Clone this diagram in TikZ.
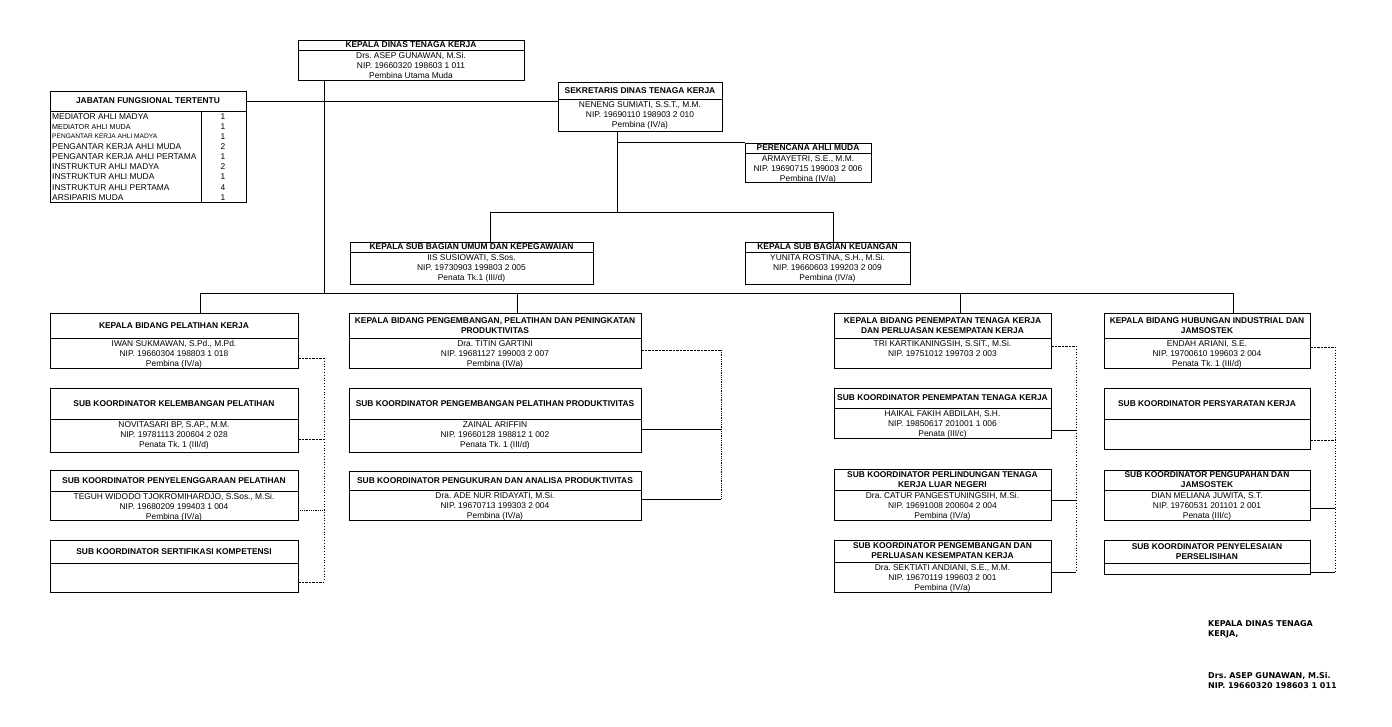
\documentclass[tikz,border=0pt]{standalone}
\usepackage{fontspec}
\setmainfont{Liberation Sans}
\newfontfamily\signfont{DejaVu Sans}
\usetikzlibrary{fit}

\tikzset{
  unitframe/.style={draw, line width=0.8pt, inner sep=0pt},
  unitline/.style={line width=0.8pt},
  unithead/.style={font=\bfseries\fontsize{8.4}{10}\selectfont, align=center, inner sep=0pt},
  unitbody/.style={font=\fontsize{8.4}{9.8}\selectfont, align=center, inner sep=0pt, anchor=north},
  link/.style={line width=0.8pt},
  feed/.style={line width=0.8pt, dash pattern=on 2.5pt off 1pt},
  spine/.style={line width=0.8pt, dotted},
  sign/.style={font=\signfont\bfseries\fontsize{8}{10.5}\selectfont, align=left, inner sep=0pt},
}

% name, left, top, right, separator, bottom, title, body
\newcommand\unitbox[8]{%
  \node[unitframe, fit={(#2,#3) (#4,#6)}] (#1) {};
  \draw[unitline] (#2,#5) -- (#4,#5);
  \node[unithead] (#1-head) at ({(#2+#4)/2},{(#3+#5)/2}) {#7};
  \node[unitbody] (#1-body) at ({(#2+#4)/2},#5+2.5) {#8};
}

\begin{document}
\frenchspacing
\begin{tikzpicture}[x=1pt,y=-1pt]
\useasboundingbox (0,0) rectangle (1392,727);

% pimpinan dan staf
\unitbox{kadis}{298}{40}{524}{50}{80}{KEPALA DINAS TENAGA KERJA}{Drs. ASEP GUNAWAN, M.Si.\\NIP. 19660320 198603 1 011\\Pembina Utama Muda}
\unitbox{sekre}{558}{82}{722}{99}{131}{SEKRETARIS DINAS TENAGA KERJA}{NENENG SUMIATI, S.S.T., M.M.\\NIP. 19690110 198903 2 010\\Pembina (IV/a)}
\unitbox{renc}{745}{143}{871}{153}{182}{PERENCANA AHLI MUDA}{ARMAYETRI, S.E., M.M.\\NIP. 19690715 199003 2 006\\Pembina (IV/a)}
\unitbox{umum}{350}{242}{593}{252}{284}{KEPALA SUB BAGIAN UMUM DAN KEPEGAWAIAN}{IIS SUSIOWATI, S.Sos.\\NIP. 19730903 199803 2 005\\Penata Tk.1 (III/d)}
\unitbox{keu}{745}{242}{910}{252}{284}{KEPALA SUB BAGIAN KEUANGAN}{YUNITA ROSTINA, S.H., M.Si.\\NIP. 19660603 199203 2 009\\Pembina (IV/a)}

% jabatan fungsional
\node[unitframe, fit={(50,91) (246,202)}] (jft) {};
\node[unithead] (jft-head) at (148,101) {JABATAN FUNGSIONAL TERTENTU};
\draw[unitline] (jft.west |- 0,111) -- (jft.east |- 0,111);
\draw[unitline] (201,111) -- (jft.south -| 201,0);
\foreach \name/\num/\fs [count=\i] in {MEDIATOR AHLI MADYA/1/8.4, MEDIATOR AHLI MUDA/1/7.2,
    PENGANTAR KERJA AHLI MADYA/1/6.6, PENGANTAR KERJA AHLI MUDA/2/8.4,
    PENGANTAR KERJA AHLI PERTAMA/1/8.4, INSTRUKTUR AHLI MADYA/2/8.4,
    INSTRUKTUR AHLI MUDA/1/8.4, INSTRUKTUR AHLI PERTAMA/4/8.4, ARSIPARIS MUDA/1/8.4} {
  \node[anchor=west, inner sep=0pt, font=\fontsize{\fs}{9}\selectfont] (jft-row\i) at (52,{106.4+10.1*\i}) {\name};
  \node[inner sep=0pt, font=\fontsize{8.4}{9}\selectfont] (jft-num\i) at (223,{106.4+10.1*\i}) {\num};
}

% bidang pelatihan kerja
\unitbox{pel}{50}{313}{298}{338}{368}{KEPALA BIDANG PELATIHAN KERJA}{IWAN SUKMAWAN, S.Pd., M.Pd.\\NIP. 19660304 198803 1 018\\Pembina (IV/a)}
\unitbox{pel1}{50}{388}{298}{419}{452}{SUB KOORDINATOR KELEMBANGAN PELATIHAN}{NOVITASARI BP, S.AP., M.M.\\NIP. 19781113 200604 2 028\\Penata Tk. 1 (III/d)}
\unitbox{pel2}{50}{470}{298}{491}{520}{SUB KOORDINATOR PENYELENGGARAAN PELATIHAN}{TEGUH WIDODO TJOKROMIHARDJO, S.Sos., M.Si.\\NIP. 19680209 199403 1 004\\Pembina (IV/a)}
\unitbox{pel3}{50}{540}{298}{563}{592}{SUB KOORDINATOR SERTIFIKASI KOMPETENSI}{}

% bidang produktivitas
\unitbox{prod}{349}{313}{641}{338}{368}{KEPALA BIDANG PENGEMBANGAN, PELATIHAN DAN PENINGKATAN\\PRODUKTIVITAS}{Dra. TITIN GARTINI\\NIP. 19681127 199003 2 007\\Pembina (IV/a)}
\unitbox{prod1}{349}{388}{641}{419}{452}{SUB KOORDINATOR PENGEMBANGAN PELATIHAN PRODUKTIVITAS}{ZAINAL ARIFFIN\\NIP. 19660128 198812 1 002\\Penata Tk. 1 (III/d)}
\unitbox{prod2}{349}{471}{641}{490}{520}{SUB KOORDINATOR PENGUKURAN DAN ANALISA PRODUKTIVITAS}{Dra. ADE NUR RIDAYATI, M.Si.\\NIP. 19670713 199303 2 004\\Pembina (IV/a)}

% bidang penempatan
\unitbox{pen}{834}{313}{1051}{338}{368}{KEPALA BIDANG PENEMPATAN TENAGA KERJA\\DAN PERLUASAN KESEMPATAN KERJA}{TRI KARTIKANINGSIH, S.SIT., M.Si.\\NIP. 19751012 199703 2 003}
\unitbox{pen1}{834}{388}{1051}{408}{438}{SUB KOORDINATOR PENEMPATAN TENAGA KERJA}{HAIKAL FAKIH ABDILAH, S.H.\\NIP. 19850617 201001 1 006\\Penata (III/c)}
\unitbox{pen2}{834}{469}{1051}{490}{520}{SUB KOORDINATOR PERLINDUNGAN TENAGA\\KERJA LUAR NEGERI}{Dra. CATUR PANGESTUNINGSIH, M.Si.\\NIP. 19691008 200604 2 004\\Pembina (IV/a)}
\unitbox{pen3}{834}{540}{1051}{562}{592}{SUB KOORDINATOR PENGEMBANGAN DAN\\PERLUASAN KESEMPATAN KERJA}{Dra. SEKTIATI ANDIANI, S.E., M.M.\\NIP. 19670119 199603 2 001\\Pembina (IV/a)}

% bidang hubungan industrial
\unitbox{hi}{1104}{313}{1310}{338}{368}{KEPALA BIDANG HUBUNGAN INDUSTRIAL DAN\\JAMSOSTEK}{ENDAH ARIANI, S.E.\\NIP. 19700610 199603 2 004\\Penata Tk. 1 (III/d)}
\unitbox{hi1}{1104}{388}{1310}{419}{449}{SUB KOORDINATOR PERSYARATAN KERJA}{}
\unitbox{hi2}{1104}{470}{1310}{490}{520}{SUB KOORDINATOR PENGUPAHAN DAN\\JAMSOSTEK}{DIAN MELIANA JUWITA, S.T.\\NIP. 19760531 201101 2 001\\Penata (III/c)}
\unitbox{hi3}{1104}{540}{1310}{563}{574}{SUB KOORDINATOR PENYELESAIAN\\PERSELISIHAN}{}

% garis komando
\coordinate (kadis-drop) at (324,80);
\coordinate (bus-left) at (200,293);
\coordinate (bus-right) at (1233,293);
\draw[link] (jft.east |- 0,101) -- (sekre.west |- 0,101);
\draw[link] (kadis-drop) -- (kadis-drop |- bus-left);
\draw[link] (bus-left) -- (bus-right);
\foreach \u/\x in {pel/200, prod/517, pen/960, hi/1233}
  \draw[link] (\x,293) -- (\u.north -| \x,0);

\coordinate (sekre-drop) at (617,131);
\coordinate (bag-left) at (490,212);
\coordinate (bag-right) at (833,212);
\draw[link] (sekre-drop) -- (sekre-drop |- bag-left);
\draw[link] (sekre-drop |- renc.north) -- (renc.north west);
\draw[link] (bag-left) -- (bag-right);
\draw[link] (bag-left) -- (bag-left |- umum.north);
\draw[link] (bag-right) -- (bag-right |- keu.north);

% garis koordinasi
\coordinate (pel-spine) at (324,358);
\draw[feed] (pel.east |- pel-spine) -- (pel-spine);
\draw[spine] (pel-spine) -- (324,582);
\foreach \u/\y/\s in {pel1/439/feed, pel2/510/densely dotted, pel3/582/feed}
  \draw[\s, line width=0.8pt] (\u.east |- 0,\y) -- (pel-spine |- 0,\y);

\coordinate (prod-spine) at (721,350);
\draw[feed] (prod.east |- prod-spine) -- (prod-spine);
\draw[spine, densely dotted, line width=1pt] (prod-spine) -- (721,499);
\foreach \u/\y in {prod1/429, prod2/499}
  \draw[link] (\u.east |- 0,\y) -- (prod-spine |- 0,\y);

\coordinate (pen-spine) at (1076,346);
\draw[feed] (pen.east |- pen-spine) -- (pen-spine);
\draw[spine] (pen-spine) -- (1076,572);
\foreach \u/\y in {pen1/430, pen2/500, pen3/572}
  \draw[link] (\u.east |- 0,\y) -- (pen-spine |- 0,\y);

\coordinate (hi-spine) at (1335,347);
\draw[feed] (hi.east |- hi-spine) -- (hi-spine);
\draw[spine] (hi-spine) -- (1335,572);
\foreach \u/\y/\s in {hi1/440/feed, hi2/508/link, hi3/572/link}
  \draw[\s] (\u.east |- 0,\y) -- (hi-spine |- 0,\y);

% tanda tangan
\node[sign, anchor=north west] (ttd-jabatan) at (1208,620) {KEPALA DINAS TENAGA\\KERJA,};
\node[sign, anchor=north west] (ttd-nama) at (1208,672) {Drs. ASEP GUNAWAN, M.Si.\\NIP. 19660320 198603 1 011};
\end{tikzpicture}
\end{document}
